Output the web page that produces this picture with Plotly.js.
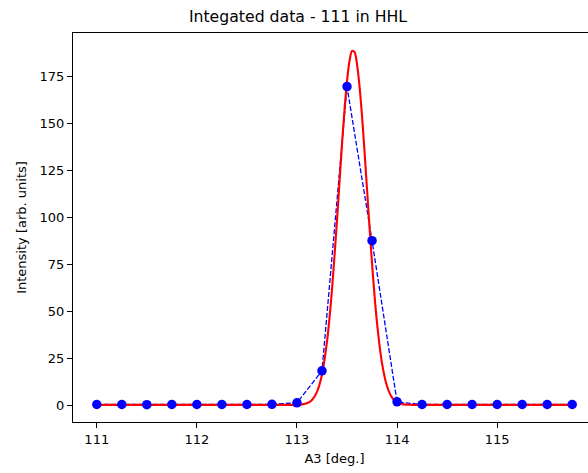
<!DOCTYPE html>
<html>
<head>
<meta charset="utf-8">
<script src="https://cdn.plot.ly/plotly-3.0.1.min.js"></script>
<style>
  html, body { margin: 0; padding: 0; overflow: hidden; background: #fff; }
  #chart { width: 600px; height: 473px; }
</style>
</head>
<body>
<div id="chart"></div>
<script>
// Measured data points (A3 angle vs integrated intensity)
const dataX = [111.0, 111.25, 111.5, 111.75, 112.0, 112.25, 112.5, 112.75, 113.0, 113.25,
               113.5, 113.75, 114.0, 114.25, 114.5, 114.75, 115.0, 115.25, 115.5, 115.75];
const dataY = [0.4, 0.4, 0.3, 0.4, 0.4, 0.4, 0.4, 0.5, 1.3, 18.3,
               169.4, 87.5, 1.8, 0.4, 0.4, 0.4, 0.4, 0.4, 0.4, 0.4];

// Fitted curve
const fitX = [111.0, 112.85, 112.9, 112.95, 113.0, 113.05, 113.1, 113.15, 113.2, 113.25,
              113.3, 113.35, 113.4, 113.425, 113.45, 113.475, 113.5, 113.525, 113.55, 113.575,
              113.6, 113.625, 113.65, 113.675, 113.7, 113.75, 113.8, 113.85, 113.9, 113.95,
              114.0, 114.05, 114.1, 114.15, 114.2, 115.75];
const fitY = [0.2, 0.2, 0.2, 0.21, 0.26, 0.45, 1.05, 2.8, 7.1, 16.4,
              33.8, 61.5, 98.4, 118.7, 138.8, 157.1, 172.3, 183.1, 188.4, 187.8,
              181.4, 169.6, 153.7, 134.9, 114.7, 75.3, 43.6, 22.3, 10.1, 4.1,
              1.55, 0.61, 0.31, 0.23, 0.2, 0.2];

const xTicks = [111, 112, 113, 114, 115];
const yTicks = [0, 25, 50, 75, 100, 125, 150, 175];

const font = "DejaVu Sans, sans-serif";

const traces = [
  {
    x: dataX, y: dataY, type: 'scatter', mode: 'lines',
    line: { color: 'blue', width: 1.3, dash: '5px,2px' },
    hoverinfo: 'skip'
  },
  {
    x: fitX, y: fitY, type: 'scatter', mode: 'lines',
    line: { color: 'red', width: 2.1, shape: 'spline', smoothing: 0.8 },
    hoverinfo: 'x+y'
  },
  {
    x: dataX, y: dataY, type: 'scatter', mode: 'markers',
    marker: { color: 'blue', size: 9.5 },
    cliponaxis: false,
    hoverinfo: 'x+y'
  }
];

const layout = {
  width: 600, height: 473,
  margin: { l: 73, r: 4, t: 33, b: 51, pad: 0 },
  paper_bgcolor: '#fff', plot_bgcolor: '#fff',
  showlegend: false,
  font: { family: font, size: 13, color: '#000' },
  title: {
    text: 'Integated data - 111 in HHL',
    font: { family: font, size: 15.7, color: '#000' },
    xref: 'container', x: 298 / 600, xanchor: 'center',
    yref: 'container', y: 1 - 17 / 473, yanchor: 'middle'
  },
  xaxis: {
    range: [110.7625, 115.9875],
    tickvals: xTicks, ticktext: xTicks.map(String),
    ticks: 'outside', ticklen: 5, tickwidth: 1, tickcolor: '#000',
    showline: true, linecolor: '#000', linewidth: 1, mirror: true,
    showgrid: false, zeroline: false,
    tickfont: { family: font, size: 13, color: '#000' },
    title: { text: 'A3 [deg.]', font: { family: font, size: 13, color: '#000' }, standoff: 8 },
    automargin: false
  },
  yaxis: {
    range: [-8.9, 197.9],
    tickvals: yTicks, ticktext: yTicks.map(String),
    ticks: 'outside', ticklen: 5, tickwidth: 1, tickcolor: '#000',
    showline: true, linecolor: '#000', linewidth: 1, mirror: true,
    showgrid: false, zeroline: false,
    tickfont: { family: font, size: 13, color: '#000' },
    title: { text: 'Intensity [arb. units]', font: { family: font, size: 13, color: '#000' }, standoff: 10 },
    automargin: false
  }
};

Plotly.newPlot('chart', traces, layout, { displayModeBar: false, staticPlot: true });
</script>
</body>
</html>
